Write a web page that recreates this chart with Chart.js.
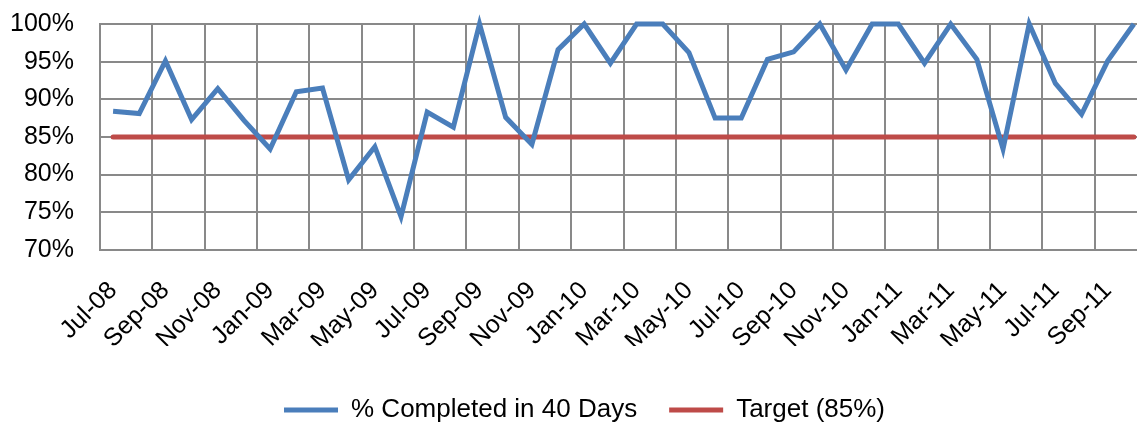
<!DOCTYPE html>
<html lang="en">
<head>
  <meta charset="UTF-8">
  <title>% Completed in 40 Days</title>
  <script src="https://cdn.jsdelivr.net/npm/chart.js"></script>
  <style>
    body { margin: 0; overflow: hidden; background: #fff; }
  </style>
</head>
<body>
  <canvas id="completionChart" width="1147" height="423"></canvas>

  <script>
    const months = [
      "Jul-08", "Aug-08", "Sep-08", "Oct-08", "Nov-08", "Dec-08",
      "Jan-09", "Feb-09", "Mar-09", "Apr-09", "May-09", "Jun-09",
      "Jul-09", "Aug-09", "Sep-09", "Oct-09", "Nov-09", "Dec-09",
      "Jan-10", "Feb-10", "Mar-10", "Apr-10", "May-10", "Jun-10",
      "Jul-10", "Aug-10", "Sep-10", "Oct-10", "Nov-10", "Dec-10",
      "Jan-11", "Feb-11", "Mar-11", "Apr-11", "May-11", "Jun-11",
      "Jul-11", "Aug-11", "Sep-11", "Oct-11"
    ];

    const completed = [
      88.4, 88.1, 95.1, 87.3, 91.4, 87.2, 83.4, 91.0, 91.5, 79.3,
      83.7, 74.4, 88.3, 86.3, 100, 87.6, 84.0, 96.6, 100, 94.8,
      100, 100, 96.2, 87.5, 87.5, 95.3, 96.3, 100, 93.9, 100,
      100, 94.8, 100, 95.3, 83.4, 100, 92.1, 88.0, 95.1, 100
    ];

    const target = [
      85, 85, 85, 85, 85, 85, 85, 85, 85, 85,
      85, 85, 85, 85, 85, 85, 85, 85, 85, 85,
      85, 85, 85, 85, 85, 85, 85, 85, 85, 85,
      85, 85, 85, 85, 85, 85, 85, 85, 85, 85
    ];

    const yTicks = [70, 75, 80, 85, 90, 95, 100];

    const gridColor = '#898989';
    const fontFamily = "'Liberation Sans', Arial, sans-serif";

    // nudge legend so it sits where Excel put it
    const legendShift = {
      id: 'legendShift',
      afterLayout(chart) {
        const lg = chart.legend;
        lg.left += 6;
        lg.right += 6;
        lg.top += 19;
        lg.bottom += 19;
      }
    };

    const ctx = document.getElementById('completionChart').getContext('2d');
    new Chart(ctx, {
      type: 'line',
      data: {
        labels: months,
        datasets: [{
          label: '% Completed in 40 Days',
          data: completed,
          borderColor: '#4a7ebb',
          backgroundColor: '#4a7ebb',
          borderWidth: 5,
          pointRadius: 0,
          tension: 0,
          clip: false
        }, {
          label: 'Target (85%)',
          data: target,
          borderColor: '#be4b48',
          backgroundColor: '#be4b48',
          borderWidth: 5,
          borderCapStyle: 'round',
          pointRadius: 0,
          clip: false
        }]
      },
      options: {
        responsive: false,
        animation: false,
        layout: { padding: { left: 10, top: 24, right: 0, bottom: 9 } },
        plugins: {
          tooltip: { enabled: false },
          legend: {
            position: 'bottom',
            labels: {
              color: '#000',
              font: { family: fontFamily, size: 26 },
              boxWidth: 54,
              boxHeight: 5,
              padding: 32,
              generateLabels(chart) {
                return chart.data.datasets.map((ds, i) => ({
                  text: ds.label,
                  fillStyle: ds.borderColor,
                  strokeStyle: ds.borderColor,
                  lineWidth: 0,
                  datasetIndex: i
                }));
              }
            }
          }
        },
        scales: {
          x: {
            offset: true,
            afterFit: s => {
              s.paddingLeft = 0;
              s.paddingRight = 0;
              // padding counts twice in the axis height; labels hang lower instead
              s.height -= 36;
            },
            grid: {
              offset: true,
              drawTicks: false,
              lineWidth: 2,
              color: c => (c.index % 2 === 0 ? gridColor : 'rgba(0,0,0,0)')
            },
            border: { color: gridColor, width: 2 },
            ticks: {
              autoSkip: false,
              maxRotation: 45,
              minRotation: 45,
              padding: 26,
              color: '#000',
              font: { family: fontFamily, size: 25 },
              callback: (v, i) => (i % 2 === 0 ? months[i] : '')
            }
          },
          y: {
            min: 70,
            max: 100,
            afterBuildTicks: axis => {
              axis.ticks = yTicks.map(v => ({ value: v }));
            },
            afterFit: s => {
              s.width = 90;
              s.paddingTop = 0;
              s.paddingBottom = 0;
            },
            grid: {
              drawTicks: false,
              lineWidth: 2,
              color: gridColor
            },
            border: { color: gridColor, width: 2 },
            ticks: {
              padding: 26,
              color: '#000',
              font: { family: fontFamily, size: 25 },
              callback: v => v + '%'
            }
          }
        }
      },
      plugins: [legendShift]
    });
  </script>
</body>
</html>
